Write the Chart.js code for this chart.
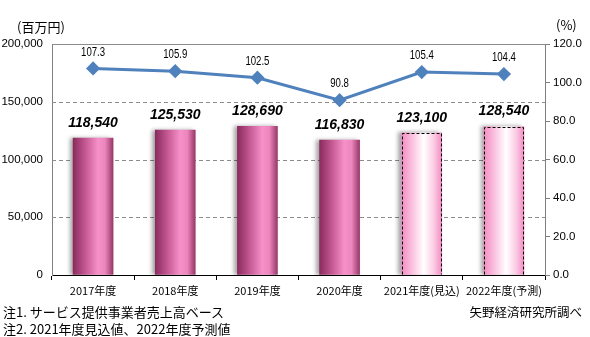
<!DOCTYPE html>
<html lang="ja">
<head>
<meta charset="utf-8">
<title>市場規模推移</title>
<script src="https://cdn.jsdelivr.net/npm/chart.js@4.4.1/dist/chart.umd.min.js"></script>
<style>
  html, body { margin: 0; padding: 0; background: #fff; }
  #wrap { position: relative; width: 590px; height: 337px; overflow: hidden; }
  #chart { position: absolute; left: 0; top: 0; }
  .txt { position: absolute; font-family: "Noto Sans CJK JP", sans-serif; color: #000; white-space: nowrap; line-height: 1; }
</style>
</head>
<body>
<div id="wrap">
  <canvas id="chart" width="590" height="337"></canvas>
  <div class="txt" style="left:17px; top:20px; font-size:13px;">(百万円)</div>
  <div class="txt" style="left:556px; top:18px; font-size:13px;">(%)</div>
  <div class="txt" style="left:3px; top:305px; font-size:13px;">注1. サービス提供事業者売上高ベース</div>
  <div class="txt" style="left:3px; top:322px; font-size:13px;">注2. 2021年度見込値、2022年度予測値</div>
  <div class="txt" style="right:8px; top:306px; font-size:12.5px;">矢野経済研究所調べ</div>
</div>
<script>
// 年度別の売上高（百万円）と前年度比（%）
const years = ["2017年度", "2018年度", "2019年度", "2020年度", "2021年度(見込)", "2022年度(予測)"];
const sales = [118540, 125530, 128690, 116830, 123100, 128540];
const growth = [107.3, 105.9, 102.5, 90.8, 105.4, 104.4];
const isEstimate = [false, false, false, false, true, true];

const sans = "'Liberation Sans', Arial, sans-serif";
const cjk = "'Noto Sans CJK JP', sans-serif";
const BAR_W = 40;

function barGradient(ctx, left, right, estimate) {
  const g = ctx.createLinearGradient(left, 0, right, 0);
  if (estimate) {
    g.addColorStop(0, "#f48cc4");
    g.addColorStop(0.2, "#f9b4d8");
    g.addColorStop(0.55, "#ffffff");
    g.addColorStop(0.8, "#fbcde4");
    g.addColorStop(1, "#f48cc4");
  } else {
    g.addColorStop(0, "#8a2b5d");
    g.addColorStop(0.3, "#c35792");
    g.addColorStop(0.62, "#f690c8");
    g.addColorStop(0.8, "#ec86bd");
    g.addColorStop(1, "#983868");
  }
  return g;
}

// per-bar gradient, placed from the category scale
function barFill(context) {
  const chart = context.chart;
  const x = chart.scales.x;
  if (!chart.chartArea || !x || context.dataIndex == null) return "#e57ab4";
  const cx = x.getPixelForValue(context.dataIndex);
  return barGradient(chart.ctx, cx - BAR_W / 2, cx + BAR_W / 2, isEstimate[context.dataIndex]);
}

// dashed horizontal guides on the left scale, solid line at the top
const guideLines = {
  id: "guideLines",
  beforeDatasetsDraw(chart) {
    const { ctx, chartArea, scales } = chart;
    const y = scales.y;
    ctx.save();
    ctx.lineWidth = 1;
    y.ticks.forEach((t) => {
      if (t.value <= y.min) return;
      const py = Math.round(y.getPixelForValue(t.value)) + 0.5;
      ctx.strokeStyle = "#8c8c8c";
      ctx.setLineDash(t.value >= y.max ? [] : [4, 3]);
      ctx.beginPath();
      ctx.moveTo(chartArea.left, py);
      ctx.lineTo(chartArea.right, py);
      ctx.stroke();
    });
    ctx.restore();
  },
};

// soft shadow behind the bars and dashed outline for the estimate bars
const barStyle = {
  id: "barStyle",
  beforeDatasetDraw(chart, args) {
    if (args.index !== 0) return;
    const { ctx } = chart;
    ctx.save();
    ctx.shadowColor = "rgba(0,0,0,0.35)";
    ctx.shadowBlur = 4;
    ctx.shadowOffsetX = -3;
    ctx.shadowOffsetY = 0;
  },
  afterDatasetDraw(chart, args) {
    if (args.index !== 0) return;
    const { ctx } = chart;
    ctx.restore();
    ctx.save();
    ctx.strokeStyle = "#000";
    ctx.lineWidth = 1;
    ctx.setLineDash([3, 2]);
    args.meta.data.forEach((el, i) => {
      if (!isEstimate[i]) return;
      const { x, y, base, width } = el.getProps(["x", "y", "base", "width"], true);
      const l = Math.round(x - width / 2) + 0.5;
      const r = Math.round(x + width / 2) - 0.5;
      const t = Math.round(y) + 0.5;
      ctx.beginPath();
      ctx.moveTo(l, base);
      ctx.lineTo(l, t);
      ctx.lineTo(r, t);
      ctx.lineTo(r, base);
      ctx.stroke();
    });
    ctx.restore();
  },
};

// value labels above bars and line points
const valueLabels = {
  id: "valueLabels",
  afterDatasetsDraw(chart) {
    const { ctx } = chart;
    ctx.save();
    ctx.fillStyle = "#000";
    ctx.textAlign = "center";
    ctx.textBaseline = "bottom";
    const bars = chart.getDatasetMeta(0);
    ctx.font = "italic bold 14px " + sans;
    bars.data.forEach((el, i) => {
      ctx.fillText(sales[i].toLocaleString("en-US"), el.x, el.y - 8);
    });
    const pts = chart.getDatasetMeta(1);
    ctx.font = "13px " + sans;
    pts.data.forEach((el, i) => {
      ctx.save();
      ctx.translate(el.x, el.y - 10);
      ctx.scale(0.74, 1);
      ctx.fillText(growth[i].toFixed(1), 0, 0);
      ctx.restore();
    });
    ctx.restore();
  },
};

new Chart(document.getElementById("chart"), {
  data: {
    labels: years,
    datasets: [
      {
        type: "bar",
        label: "売上高",
        data: sales,
        yAxisID: "y",
        barThickness: BAR_W,
        backgroundColor: barFill,
        borderWidth: 0,
        order: 2,
      },
      {
        type: "line",
        label: "前年度比",
        data: growth,
        yAxisID: "y1",
        borderColor: "#4f81bd",
        borderWidth: 3,
        pointStyle: "rectRot",
        pointRadius: 5,
        pointBackgroundColor: "#4f81bd",
        pointBorderColor: "#4f81bd",
        tension: 0,
        order: 1,
      },
    ],
  },
  options: {
    responsive: false,
    animation: false,
    devicePixelRatio: 1,
    layout: { padding: { top: 44, left: 0, right: 0, bottom: 0 } },
    plugins: {
      legend: { display: false },
      tooltip: { enabled: false },
    },
    scales: {
      x: {
        offset: true,
        grid: { offset: true, drawOnChartArea: false, drawTicks: true, tickLength: 5, tickColor: "#000" },
        border: { color: "#000", width: 1 },
        ticks: { color: "#000", font: { family: cjk, size: 11 }, padding: 4, maxRotation: 0, autoSkip: false },
        afterFit(scale) { scale.height = 62; },
      },
      y: {
        position: "left",
        min: 0,
        max: 200000,
        grid: { drawOnChartArea: false, drawTicks: false },
        border: { color: "#808080", width: 1 },
        ticks: {
          stepSize: 50000,
          color: "#000",
          padding: 9,
          font: { family: sans, size: 11.5 },
          callback: (v) => Number(v).toLocaleString("en-US"),
        },
        afterFit(scale) { scale.width = 52; },
      },
      y1: {
        position: "right",
        min: 0,
        max: 120,
        grid: { drawOnChartArea: false, drawTicks: true, tickLength: 5, tickColor: "#808080" },
        border: { color: "#808080", width: 1 },
        ticks: {
          stepSize: 20,
          color: "#000",
          padding: 3,
          font: { family: sans, size: 11.5 },
          callback: (v) => Number(v).toFixed(1),
        },
        afterFit(scale) { scale.width = 45; },
      },
    },
  },
  plugins: [guideLines, barStyle, valueLabels],
});
</script>
</body>
</html>
